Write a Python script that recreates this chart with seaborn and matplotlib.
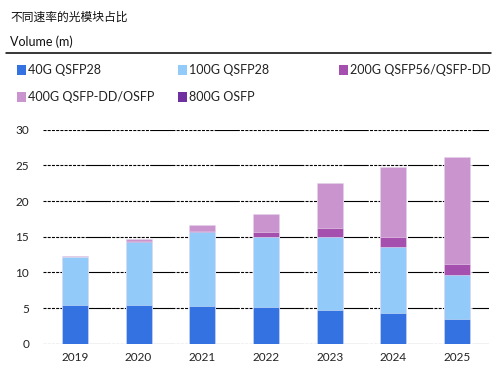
import numpy as np
import pandas as pd
import seaborn as sns
import matplotlib.pyplot as plt
from matplotlib.patches import Patch

# ------------------------------------------------------------
# data (millions of units)
# ------------------------------------------------------------
years = ["2019", "2020", "2021", "2022", "2023", "2024", "2025"]
series_names = ["40G QSFP28", "100G QSFP28", "200G QSFP56/QSFP-DD",
                "400G QSFP-DD/OSFP", "800G OSFP"]
v40 = [5.4, 5.4, 5.25, 5.1, 4.7, 4.3, 3.5]
v100 = [6.8, 8.9, 10.45, 9.8, 10.2, 9.2, 6.1]
v200 = [0.0, 0.05, 0.15, 0.7, 1.3, 1.5, 1.6]
v400 = [0.15, 0.3, 0.85, 2.6, 6.3, 9.8, 15.0]
v800 = [0.0, 0.0, 0.0, 0.0, 0.0, 0.0, 0.0]

colors = ["#3572E1", "#92CBF9", "#A54FAE", "#CA95CE", "#7030A0"]

sns.set_theme(style="white")
plt.rcParams["font.family"] = ["Lato", "Noto Sans CJK SC", "DejaVu Sans"]

df = pd.DataFrame({"year": years, series_names[0]: v40, series_names[1]: v100,
                   series_names[2]: v200, series_names[3]: v400,
                   series_names[4]: v800})

fig = plt.figure(figsize=(5.02, 3.72), dpi=100)
ax = fig.add_axes([43 / 502, 1 - 343.7 / 372, 446 / 502, 214 / 372])

# stacked bars: draw cumulative totals from the top layer down
cum = df[series_names].cumsum(axis=1)
for name, col in reversed(list(zip(series_names, colors))):
    sns.barplot(x=df["year"], y=cum[name], color=col, width=0.41,
                saturation=1, edgecolor=(1, 1, 1, 0.5), linewidth=0.6, ax=ax)

ax.set_ylim(0, 30)
ax.set_xlim(-0.5, 6.5)
ax.set_yticks(range(0, 31, 5))
ax.set_xlabel("")
ax.set_ylabel("")
for s in ax.spines.values():
    s.set_visible(False)

# grid: dashed with solid runs, like the source
dash = [2.7, 1.1] * 10 + [20, 0.01]
ax.yaxis.grid(True, color="black", linewidth=0.8, dashes=dash)
ax.set_axisbelow(True)
ax.tick_params(axis="both", labelsize=8.5, colors="#222222", length=0, pad=6)
ax.tick_params(axis="y", pad=10)

# header
fig.text(10 / 502, 1 - 17 / 372, "不同速率的光模块占比", fontsize=8.5,
         va="center", ha="left", color="#111111")
fig.text(10 / 502, 1 - 42 / 372, "Volume (m)", fontsize=9,
         va="center", ha="left", color="#111111")
fig.add_artist(plt.Line2D([6 / 502, 491 / 502], [1 - 53 / 372, 1 - 53 / 372],
                          color="black", linewidth=1.1))

# legend
handles = [Patch(facecolor=c, edgecolor="none") for c in colors]
pos = [(17, 70), (178, 70), (339, 70), (17, 97), (178, 97)]
for h, name, (px, py) in zip(handles, series_names, pos):
    fig.patches.append(plt.Rectangle((px / 502, 1 - (py + 5) / 372), 9 / 502, 10 / 372,
                                     transform=fig.transFigure,
                                     facecolor=h.get_facecolor(), edgecolor="none"))
    fig.text((px + 11) / 502, 1 - py / 372, name, fontsize=9,
             va="center", ha="left", color="#222222")

fig.savefig("out.png", dpi=100)
